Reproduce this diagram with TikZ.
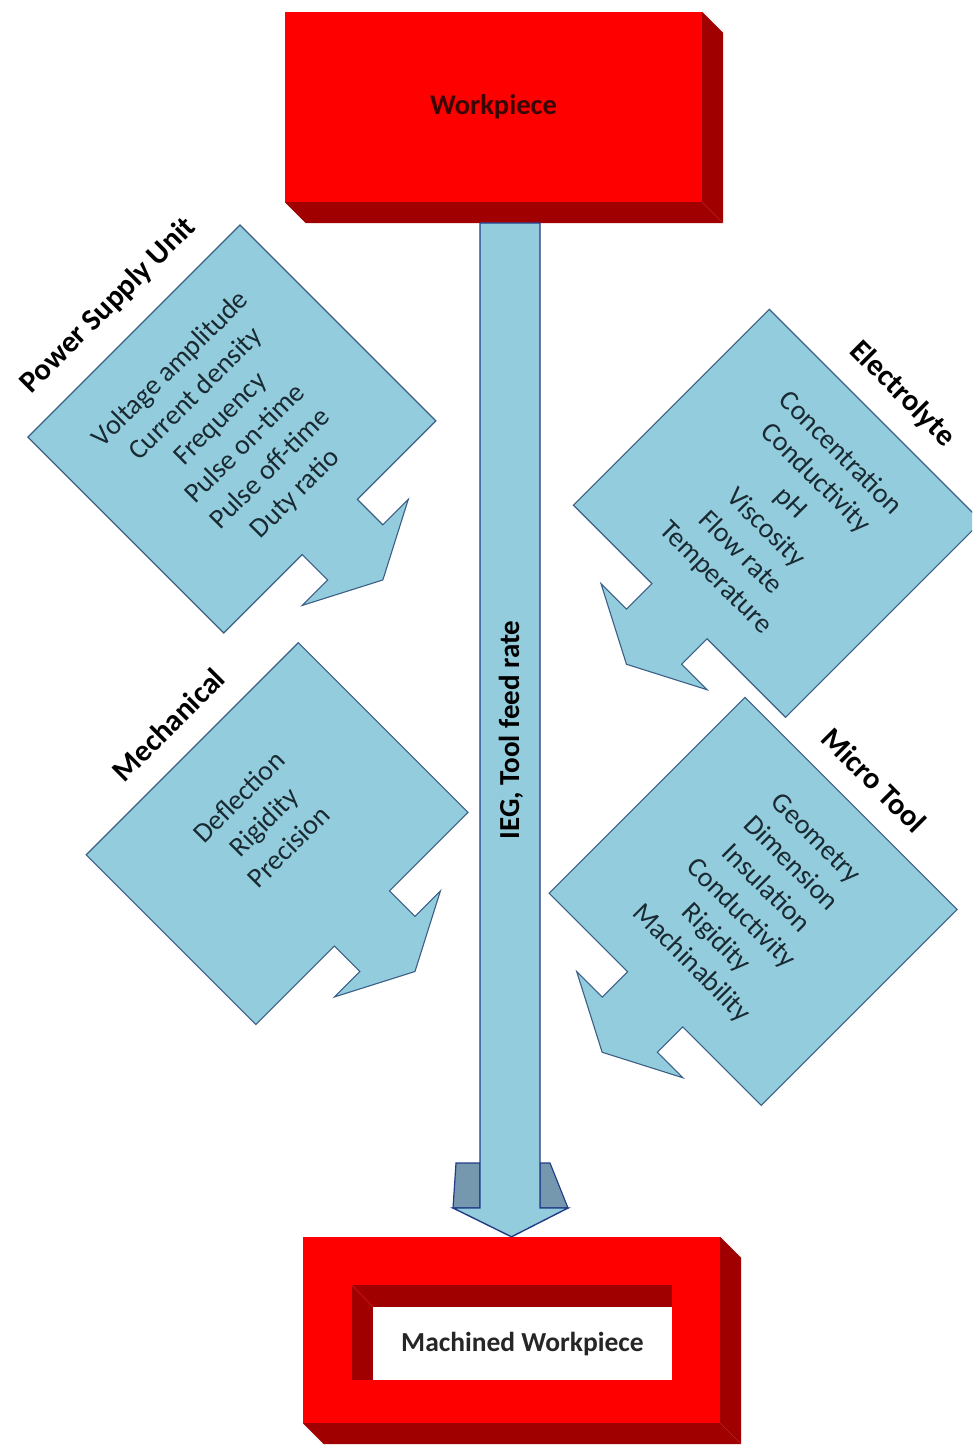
\documentclass[tikz,border=0pt]{standalone}
\usepackage{fontspec}
\setmainfont{Carlito}
\usetikzlibrary{calc}
\definecolor{boxred}{HTML}{FF0000}
\definecolor{boxdark}{HTML}{A00000}
\definecolor{wallline}{HTML}{C81010}
\definecolor{callfill}{HTML}{93CDDD}
\definecolor{callline}{HTML}{3B5F86}
\definecolor{arrline}{HTML}{223C88}
\definecolor{barbfill}{HTML}{7598AE}
\definecolor{bodytext}{HTML}{1A2A33}
\definecolor{wptext}{HTML}{3A0505}
\begin{document}
\begin{tikzpicture}[x=1pt, y=-1pt,
  calloutbody/.style={fill=callfill, draw=callline, line width=1.1pt, line join=miter},
  callout path/.style={insert path={(0,0) -- (300,0) -- (300,#1) -- (189,#1)
      -- (189,#1+36) -- (225,#1+36) -- (150,#1+75) -- (75,#1+36) -- (111,#1+36)
      -- (111,#1) -- (0,#1) -- cycle}},
  itemtext/.style={text=bodytext, align=center, inner sep=0pt,
      font=\fontsize{28}{35.2}\selectfont},
  titletext/.style={text=black, inner sep=0pt, font=\bfseries\fontsize{30.5}{36}\selectfont},
  redface/.style={fill=boxred, inner sep=0pt},
  darkface/.style={fill=boxdark},
  mainarrow/.style={fill=callfill, draw=arrline, line width=1.4pt, line join=miter},
  barb/.style={fill=barbfill, draw=arrline, line width=1.2pt, line join=miter},
  % callout axes: body spans 300 along x, depth along y
  leftaxes/.style={x={(-0.70711pt,-0.70711pt)}, y={(0.70711pt,-0.70711pt)}},
  rightaxes/.style={x={(0.70711pt,-0.70711pt)}, y={(-0.70711pt,-0.70711pt)}}
]
\useasboundingbox (0,0) rectangle (972,1447);
\clip (0,0) rectangle (972,1447);

% ---- Workpiece block ----
\node[redface, minimum width=417pt, minimum height=190pt, text=wptext,
      font=\bfseries\fontsize{28.5}{34}\selectfont] (wp) at (493.5,107) {Workpiece};
\fill[darkface] (wp.north east) -- ++(21,21) -- ($(wp.south east)+(21,21)$)
      -- (wp.south east) -- cycle;
\fill[darkface] (wp.south west) -- ++(21,21) -- ($(wp.south east)+(21,21)$)
      -- (wp.south east) -- cycle;

% ---- Machined workpiece block with its recess ----
\node[redface, minimum width=417pt, minimum height=186pt] (mbox) at (511.5,1330) {};
\fill[darkface] (mbox.north east) -- ++(21,21) -- ($(mbox.south east)+(21,21)$)
      -- (mbox.south east) -- cycle;
\fill[darkface] (mbox.south west) -- ++(21,21) -- ($(mbox.south east)+(21,21)$)
      -- (mbox.south east) -- cycle;
\fill[darkface] (352,1285) rectangle (672,1380);
\draw[wallline, line width=1pt] (352,1285) -- (373,1307);
\node[fill=white, minimum width=299pt, minimum height=73pt, inner sep=0pt,
      text=black!85, font=\bfseries\fontsize{27.5}{33}\selectfont] (mwp) at (522.5,1343.5)
      {Machined Workpiece};

% ---- Power Supply Unit ----
\begin{scope}[shift={(240,225)}, leftaxes]
  \path[calloutbody, callout path=277];
  \node[itemtext, rotate=45] (psu) at (151,141.5)
    {Voltage amplitude\\Current density\\Frequency\\Pulse on-time\\Pulse off-time\\Duty ratio};
  \node[titletext, rotate=45] (psut) at (150,-36) {Power Supply Unit};
\end{scope}

% ---- Mechanical ----
\begin{scope}[shift={(298.3,642.7)}, leftaxes]
  \path[calloutbody, callout path=240];
  \node[itemtext, rotate=45] (mech) at (151,102) {Deflection\\Rigidity\\Precision};
  \node[titletext, rotate=45] (mecht) at (150,-34) {Mechanical};
\end{scope}

% ---- Electrolyte ----
\begin{scope}[shift={(769.3,309.3)}, rightaxes]
  \path[calloutbody, callout path=277];
  \node[itemtext, rotate=-45] (elec) at (152,140)
    {Concentration\\Conductivity\\pH\\Viscosity\\Flow rate\\Temperature};
  \node[titletext, rotate=-45] (elect) at (154,-34) {Electrolyte};
\end{scope}

% ---- Micro Tool ----
\begin{scope}[shift={(745,697.3)}, rightaxes]
  \path[calloutbody, callout path=277];
  \node[itemtext, rotate=-45] (tool) at (150,139)
    {Geometry\\Dimension\\Insulation\\Conductivity\\Rigidity\\Machinability};
  \node[titletext, rotate=-45] (toolt) at (150,-33) {Micro Tool};
\end{scope}

% ---- central feed arrow from workpiece to machined workpiece ----
\coordinate (sl) at (480,223);
\coordinate (sr) at (540,223);
\coordinate (tip) at (mbox.north -| 511.5,0);
\fill[barb] (456,1163) -- (480,1163) -- (480,1208) -- (453,1208) -- cycle;
\fill[barb] (540,1163) -- (550,1163) -- (568,1208) -- (540,1208) -- cycle;
\path[mainarrow] (sl) -- (sr) -- (sr |- 0,1208) -- (568,1208) -- (tip)
      -- (453,1208) -- (sl |- 0,1208) -- cycle;
\node[rotate=90, inner sep=0pt, font=\bfseries\fontsize{29}{34}\selectfont] (feed)
      at (511,730) {IEG, Tool feed rate};
\end{tikzpicture}
\end{document}
